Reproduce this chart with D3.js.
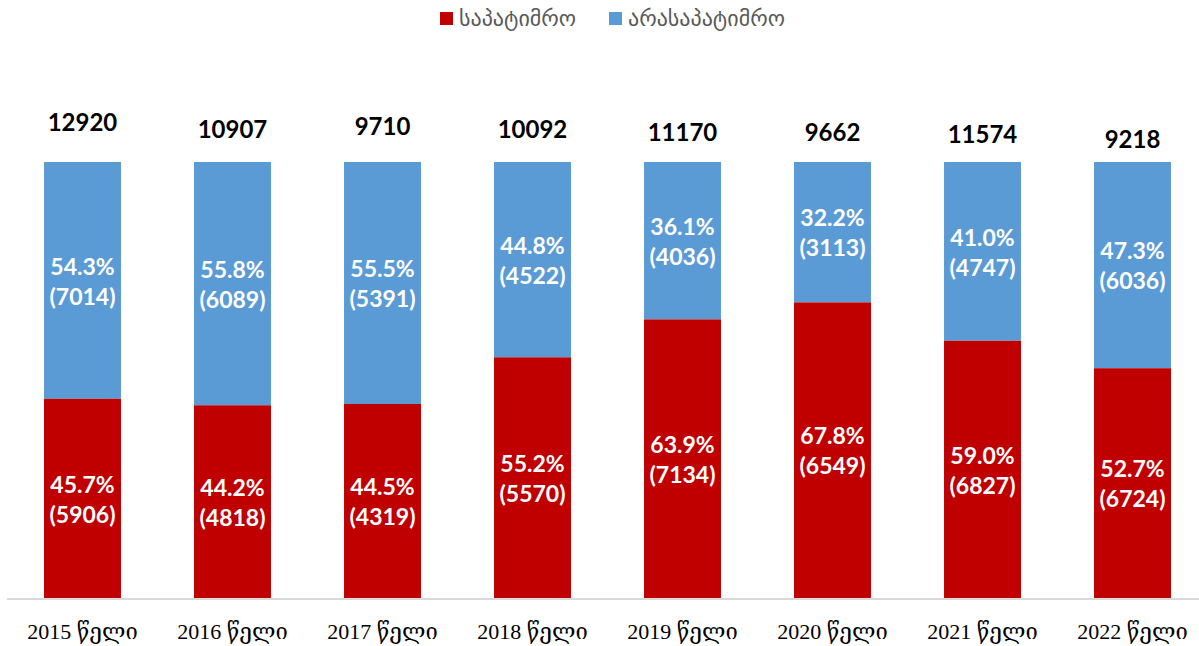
<!DOCTYPE html>
<html>
<head>
<meta charset="utf-8">
<script src="https://cdn.jsdelivr.net/npm/d3@7"></script>
<style>
	body { margin: 0; background: #fff; }
	svg { display: block; }
</style>
</head>
<body>
<svg id="chart" width="1199" height="646"></svg>
<script>
// data
const years = ['2015 წელი', '2016 წელი', '2017 წელი', '2018 წელი', '2019 წელი', '2020 წელი', '2021 წელი', '2022 წელი'];
const totals = [12920, 10907, 9710, 10092, 11170, 9662, 11574, 9218];
const custodialPct = [45.7, 44.2, 44.5, 55.2, 63.9, 67.8, 59.0, 52.7];
const custodialN = [5906, 4818, 4319, 5570, 7134, 6549, 6827, 6724];
const nonCustodialPct = [54.3, 55.8, 55.5, 44.8, 36.1, 32.2, 41.0, 47.3];
const nonCustodialN = [7014, 6089, 5391, 4522, 4036, 3113, 4747, 6036];
const seriesNames = ['საპატიმრო', 'არასაპატიმრო'];

// total labels sit a little unevenly above the bars in the original
const totalLift = [39, 32, 35, 32, 29, 29, 27, 22];

const colors = ['#C00000', '#5B9BD5'];

const svg = d3.select('#chart');
const margin = { left: 7.5, right: 0, top: 162, bottom: 48 };
const width = 1199, height = 646;

let x = d3.scaleBand()
	.domain(years)
	.range([margin.left, margin.left + 150 * years.length])
	.paddingInner(0.487)
	.paddingOuter(0.2435);

let y = d3.scaleLinear()
	.domain([0, 100])
	.range([height - margin.bottom, margin.top]);

let rows = years.map((yr, i) => ({
	year: yr,
	total: totals[i],
	c: custodialPct[i], cn: custodialN[i],
	n: nonCustodialPct[i], nn: nonCustodialN[i],
	lift: totalLift[i],
}));

// bars
let g = svg.append('g');
rows.forEach(d => {
	let bx = x(d.year), bw = x.bandwidth();
	let cTop = y(d.c);
	g.append('rect')
		.attr('x', bx).attr('width', bw)
		.attr('y', y(100)).attr('height', cTop - y(100))
		.attr('fill', colors[1]);
	g.append('rect')
		.attr('x', bx).attr('width', bw)
		.attr('y', cTop).attr('height', y(0) - cTop)
		.attr('fill', colors[0]);

	let cx = bx + bw / 2;
	[[(cTop + y(0)) / 2, d.c, d.cn], [(y(100) + cTop) / 2, d.n, d.nn]].forEach(([mid, p, n]) => {
		let t = g.append('text')
			.attr('x', cx).attr('y', mid)
			.attr('text-anchor', 'middle')
			.attr('fill', '#fff')
			.style('font', 'bold 23px Lato, "Open Sans", sans-serif');
		t.append('tspan').attr('x', cx).attr('dy', '-0.25em').text(`${p.toFixed(1)}%`);
		t.append('tspan').attr('x', cx).attr('dy', 30).text(`(${n})`);
	});

	g.append('text')
		.attr('x', cx).attr('y', y(100) - d.lift + 8)
		.attr('text-anchor', 'middle')
		.attr('fill', '#000')
		.style('font', 'bold 24px Lato, "Open Sans", sans-serif')
		.text(d.total);
});

// axis
let axis = svg.append('g')
	.attr('transform', `translate(0,${y(0) + 1})`)
	.call(d3.axisBottom(x).tickSize(0).tickPadding(24));
axis.select('.domain').attr('stroke', '#D9D9D9').attr('stroke-width', 2)
	.attr('d', `M7,0H${width}`);
axis.selectAll('text')
	.attr('fill', '#000')
	.style('font-size', '22px')
	.style('font-family', '"Liberation Serif", "DejaVu Serif", serif');

// legend
let legend = svg.append('g').attr('transform', 'translate(440,19)');
let lx = [0, 169];
seriesNames.forEach((name, i) => {
	let item = legend.append('g').attr('transform', `translate(${lx[i]},0)`);
	item.append('rect').attr('x', 0).attr('y', -7).attr('width', 13).attr('height', 13).attr('fill', colors[i]);
	item.append('text').attr('x', 19).attr('y', 7)
		.attr('fill', '#595959')
		.style('font', '22px "DejaVu Sans", sans-serif')
		.text(name);
});
</script>
</body>
</html>
